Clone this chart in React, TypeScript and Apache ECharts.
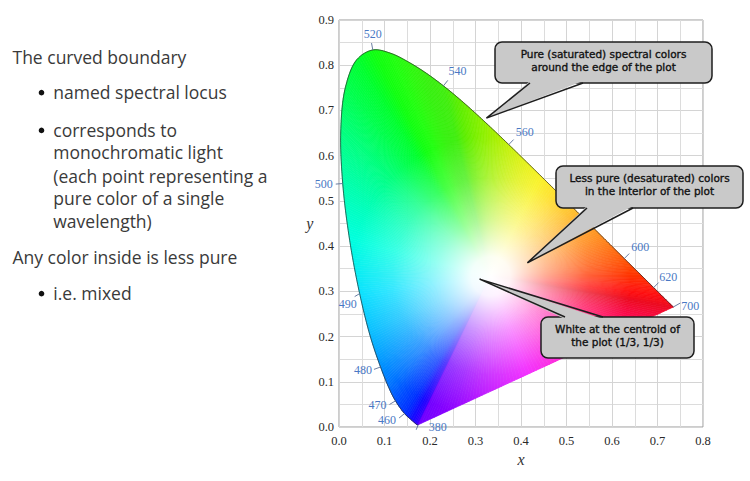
import React, { useEffect, useRef } from "react";
import * as echarts from "echarts";

// ---- data ----
const wavelengths = [380, 390, 400, 410, 420, 430, 440, 450, 460, 470, 475, 480, 485, 490, 495, 500, 505, 510, 515, 520, 525, 530, 535, 540, 545, 550, 555, 560, 565, 570, 575, 580, 585, 590, 595, 600, 605, 610, 620, 630, 640, 650, 660, 680, 700];
const locusX = [0.1741, 0.1738, 0.1733, 0.1726, 0.1714, 0.1689, 0.1644, 0.1566, 0.144, 0.1241, 0.1096, 0.0913, 0.0687, 0.0454, 0.0235, 0.0082, 0.0039, 0.0139, 0.0389, 0.0743, 0.1142, 0.1547, 0.1929, 0.2296, 0.2658, 0.3016, 0.3373, 0.3731, 0.4087, 0.4441, 0.4788, 0.5125, 0.5448, 0.5752, 0.6029, 0.627, 0.6482, 0.6658, 0.6915, 0.7079, 0.719, 0.726, 0.73, 0.7334, 0.7347];
const locusY = [0.005, 0.0049, 0.0048, 0.0048, 0.0051, 0.0069, 0.0109, 0.0177, 0.0297, 0.0578, 0.0868, 0.1327, 0.2007, 0.295, 0.4127, 0.5384, 0.6548, 0.7502, 0.812, 0.8338, 0.8262, 0.8059, 0.7816, 0.7543, 0.7243, 0.6923, 0.6589, 0.6245, 0.5896, 0.5547, 0.5202, 0.4866, 0.4544, 0.4242, 0.3965, 0.3725, 0.3514, 0.334, 0.3083, 0.292, 0.2809, 0.274, 0.27, 0.2666, 0.2653];
const whitePoint = [1 / 3, 1 / 3];
const labeledWavelengths = [380, 460, 470, 480, 490, 500, 520, 540, 560, 600, 620, 700];

const leftText = [
  { text: "The curved boundary", bullet: false, indent: false },
  { text: "named spectral locus", bullet: true, indent: true },
  { text: "corresponds to", bullet: true, indent: true },
  { text: "monochromatic light", bullet: false, indent: true },
  { text: "(each point representing a", bullet: false, indent: true },
  { text: "pure color of a single", bullet: false, indent: true },
  { text: "wavelength)", bullet: false, indent: true },
  { text: "Any color inside is less pure", bullet: false, indent: false },
  { text: "i.e. mixed", bullet: true, indent: true },
];

const calloutTexts = [
  ["Pure (saturated) spectral colors", "around the edge of the plot"],
  ["Less pure (desaturated) colors", "in the interior of the plot"],
  ["White at the centroid of", "the plot (1/3, 1/3)"],
];
const calloutTips = [
  [0.324, 0.683],
  [0.414, 0.363],
  [0.309, 0.327],
];

// ---- styles ----
const locusColors = [
  "#7000ff", "#6400ff", "#5800ff", "#4a00ff", "#3c00ff", "#2e00ff", "#2000ff", "#1010ff",
  "#0030ff", "#0050ff", "#0070ff", "#0090ff", "#00b8ff", "#00e0ff", "#00ffe0", "#00ffb0",
  "#00ff80", "#00ff50", "#00ff30", "#10ff10", "#20ff10", "#30f810", "#38f010", "#40ee10",
  "#60ee00", "#80f000", "#a0f000", "#c0f000", "#e0f000", "#f8f000", "#ffd800", "#ffb800",
  "#ff9800", "#ff8000", "#ff6800", "#ff5500", "#ff4400", "#ff3300", "#ff2010", "#ff1010",
  "#f80c14", "#f40c18", "#f00c1c", "#ee0c1e", "#ec0c20",
];
// purple line colours, from the 700 end to the 380 end
const purpleColors = ["#ec0c20", "#ff0c58", "#ff0090", "#ff00c8", "#f000ff", "#c000ff", "#9000ff", "#7000ff"];
const labelOffsets: Record<number, { dx: number; dy: number; align?: string; tick?: number[] }> = {
  380: { dx: 10.5, dy: 2, align: "left", tick: [-2, 5] },
  460: { dx: -17.5, dy: 6.4 },
  470: { dx: -18, dy: 4 },
  480: { dx: -17.5, dy: 3 },
  490: { dx: -12, dy: 10, tick: [-5, 3] },
  500: { dx: -19, dy: 0 },
  520: { dx: 0, dy: -16 },
  540: { dx: 14, dy: -15 },
  560: { dx: 16, dy: -13 },
  600: { dx: 16, dy: -12 },
  620: { dx: 14.5, dy: -11 },
  700: { dx: 8, dy: -1, align: "left", tick: [7, -4] },
};
const calloutBoxes = [
  { x: 495, y: 42, w: 217, h: 41, baseL: 530, baseR: 583, side: "bottom" },
  { x: 556, y: 166, w: 187, h: 42, baseL: 587, baseR: 633, side: "bottom" },
  { x: 541, y: 317, w: 153, h: 41, baseL: 565, baseR: 603, side: "top" },
];

const serif = '"Liberation Serif", "Times New Roman", serif';

// ---- drawing helpers ----
function rgb(h: string) {
  return [parseInt(h.slice(1, 3), 16), parseInt(h.slice(3, 5), 16), parseInt(h.slice(5, 7), 16)];
}
function mix(a: string, b: string, t: number) {
  const A = rgb(a), B = rgb(b);
  return `rgb(${A.map((v, k) => Math.round(v + (B[k] - v) * t)).join(",")})`;
}
function rampColor(stops: string[], t: number) {
  const f = t * (stops.length - 1);
  const k = Math.min(Math.floor(f), stops.length - 2);
  return mix(stops[k], stops[k + 1], f - k);
}
// centripetal Catmull-Rom between p1 and p2
function crPoint(p0: number[], p1: number[], p2: number[], p3: number[], u: number) {
  const d = (a: number[], b: number[]) => Math.pow(Math.hypot(b[0] - a[0], b[1] - a[1]), 0.5) + 1e-6;
  const t0 = 0, t1 = t0 + d(p0, p1), t2 = t1 + d(p1, p2), t3 = t2 + d(p2, p3);
  const t = t1 + u * (t2 - t1);
  const L = (a: number[], b: number[], ta: number, tb: number) =>
    [((tb - t) * a[0] + (t - ta) * b[0]) / (tb - ta), ((tb - t) * a[1] + (t - ta) * b[1]) / (tb - ta)];
  const A1 = L(p0, p1, t0, t1), A2 = L(p1, p2, t1, t2), A3 = L(p2, p3, t2, t3);
  const B1 = L(A1, A2, t0, t2), B2 = L(A2, A3, t1, t3);
  return L(B1, B2, t1, t2);
}
function segment(P: number[][], i: number) {
  const n = P.length;
  const p1 = P[i], p2 = P[i + 1];
  const p0 = i > 0 ? P[i - 1] : [2 * p1[0] - p2[0], 2 * p1[1] - p2[1]];
  const p3 = i + 2 < n ? P[i + 2] : [2 * p2[0] - p1[0], 2 * p2[1] - p1[1]];
  const len = Math.hypot(p2[0] - p1[0], p2[1] - p1[1]);
  const steps = Math.max(1, Math.ceil(len / 2.5));
  const out: number[][] = [];
  for (let k = 0; k <= steps; k++) {
    out.push(len < 0.5 ? (k === 0 ? p1 : p2) : crPoint(p0, p1, p2, p3, k / steps));
  }
  return out;
}

export default function App() {
  const ref = useRef<HTMLDivElement>(null);
  useEffect(() => {
    if (!ref.current) return;
    const chart = echarts.init(ref.current, undefined, { renderer: "svg" });
    const pts = wavelengths.map((_, i) => [locusX[i], locusY[i]]);

    const fan = {
      type: "custom",
      clip: false,
      z: 2,
      data: pts,
      renderItem: (params: any, api: any) => {
        const i = params.dataIndex;
        if (i >= wavelengths.length - 1) return null;
        const P = pts.map((p) => api.coord(p));
        const w = api.coord(whitePoint);
        const s = segment(P, i);
        const children = [];
        for (let k = 0; k < s.length - 1; k++) {
          const c = mix(locusColors[i], locusColors[i + 1], (k + 0.5) / (s.length - 1));
          children.push({
            type: "polygon",
            shape: { points: [w, s[k], s[k + 1]] },
            style: { fill: c, stroke: c, lineWidth: 0.7 },
          });
        }
        return { type: "group", children };
      },
    };

    const purple = {
      type: "custom",
      clip: false,
      z: 2,
      data: [pts[0]],
      renderItem: (_p: any, api: any) => {
        const w = api.coord(whitePoint);
        const a = api.coord(pts[pts.length - 1]);
        const b = api.coord(pts[0]);
        const N = 80;
        const children = [];
        for (let k = 0; k < N; k++) {
          const u0 = k / N, u1 = (k + 1) / N;
          const c = rampColor(purpleColors, (k + 0.5) / N);
          children.push({
            type: "polygon",
            shape: {
              points: [w, [a[0] + (b[0] - a[0]) * u0, a[1] + (b[1] - a[1]) * u0], [a[0] + (b[0] - a[0]) * u1, a[1] + (b[1] - a[1]) * u1]],
            },
            style: { fill: c, stroke: c, lineWidth: 0.7 },
          });
        }
        return { type: "group", children };
      },
    };

    const overlay = {
      type: "custom",
      clip: false,
      z: 3,
      data: [pts[0]],
      renderItem: (_p: any, api: any) => {
        const w = api.coord(whitePoint);
        const P = pts.map((p) => api.coord(p));
        let curve: number[][] = [];
        for (let i = 0; i < P.length - 1; i++) {
          const s = segment(P, i);
          curve = curve.concat(i === 0 ? s : s.slice(1));
        }
        return {
          type: "group",
          children: [
            {
              type: "polygon",
              shape: { points: curve },
              style: {
                fill: {
                  type: "radial", global: true, x: w[0], y: w[1], r: 140,
                  colorStops: [
                    { offset: 0, color: "rgba(255,255,255,1)" },
                    { offset: 0.14, color: "rgba(255,255,255,0.95)" },
                    { offset: 0.4, color: "rgba(255,255,255,0.58)" },
                    { offset: 0.7, color: "rgba(255,255,255,0.22)" },
                    { offset: 1, color: "rgba(255,255,255,0)" },
                  ],
                },
              },
            },
            { type: "polyline", shape: { points: curve }, style: { stroke: "#2a2a2a", lineWidth: 0.7, fill: null } },
          ],
        };
      },
    };

    const labels = {
      type: "custom",
      clip: false,
      z: 5,
      data: labeledWavelengths.map((wl) => {
        const i = wavelengths.indexOf(wl);
        return [locusX[i], locusY[i]];
      }),
      renderItem: (params: any, api: any) => {
        const wl = labeledWavelengths[params.dataIndex];
        const idx = wavelengths.indexOf(wl);
        const p = api.coord(pts[idx]);
        const a = api.coord(pts[Math.max(idx - 1, 0)]);
        const b = api.coord(pts[Math.min(idx + 1, pts.length - 1)]);
        let tx = b[0] - a[0], ty = b[1] - a[1];
        const L = Math.hypot(tx, ty) || 1;
        tx /= L; ty /= L;
        let nx = ty, ny = -tx;
        const w = api.coord(whitePoint);
        if (nx * (p[0] - w[0]) + ny * (p[1] - w[1]) < 0) { nx = -nx; ny = -ny; }
        const st = labelOffsets[wl];
        const t1 = st.tick ? [p[0] + st.tick[0], p[1] + st.tick[1]] : [p[0] + nx * 7, p[1] + ny * 7];
        return {
          type: "group",
          children: [
            { type: "line", shape: { x1: p[0], y1: p[1], x2: t1[0], y2: t1[1] }, style: { stroke: "#5a6f98", lineWidth: 0.9 } },
            {
              type: "text", x: p[0] + st.dx, y: p[1] + st.dy,
              style: { text: String(wl), fill: "#4a78c4", font: `12px ${serif}`, align: st.align || "center", verticalAlign: "middle" },
            },
          ],
        };
      },
    };

    const axisLabel = { color: "#2a2a2a", fontFamily: serif, fontSize: 12.5 };
    chart.setOption({
      animation: false,
      backgroundColor: "#fff",
      grid: { left: 339, right: 47, top: 20, bottom: 54, show: true, borderColor: "#9a9a9a", borderWidth: 1 },
      xAxis: {
        type: "value", min: 0, max: 0.8, interval: 0.1,
        name: "x", nameLocation: "middle", nameGap: 20,
        nameTextStyle: { fontFamily: serif, fontStyle: "italic", fontSize: 16, color: "#333" },
        axisLine: { show: false }, axisTick: { show: false },
        axisLabel: { ...axisLabel, margin: 7, formatter: (v: number) => v.toFixed(1) },
        splitLine: { show: true, lineStyle: { color: "#d4d4d4", width: 1 } },
        minorTick: { show: false, splitNumber: 2 },
        minorSplitLine: { show: true, lineStyle: { color: "#dcdcdc", width: 1 } },
      },
      yAxis: {
        type: "value", min: 0, max: 0.9, interval: 0.1,
        name: "y", nameLocation: "middle", nameGap: 24, nameRotate: 0,
        nameTextStyle: { fontFamily: serif, fontStyle: "italic", fontSize: 16, color: "#333" },
        axisLine: { show: false }, axisTick: { show: false },
        axisLabel: { ...axisLabel, margin: 5, formatter: (v: number) => v.toFixed(1) },
        splitLine: { show: true, lineStyle: { color: "#d4d4d4", width: 1 } },
        minorTick: { show: false, splitNumber: 2 },
        minorSplitLine: { show: true, lineStyle: { color: "#dcdcdc", width: 1 } },
      },
      series: [fan, purple, overlay, labels],
    });

    // graphic: left text and callouts
    const graphic: any[] = [];
    const baselines = [63.3, 98.3, 136, 158.3, 181.7, 204, 226.7, 263.3, 299.3];
    leftText.forEach((row, k) => {
      const bl = baselines[k];
      graphic.push({
        type: "text", id: "lt" + k, x: row.indent ? 53.3 : 12.5, y: bl - 6, z: 10,
        style: { text: row.text, fill: "#3a3a3a", font: '17.5px "Open Sans", Lato, sans-serif', verticalAlign: "middle" },
      });
      if (row.bullet) {
        graphic.push({ type: "circle", id: "lb" + k, shape: { cx: 41.5, cy: bl - 5.6, r: 2.8 }, style: { fill: "#111" }, z: 10 });
      }
    });
    calloutBoxes.forEach((bx, k) => {
      const tip = chart.convertToPixel({ xAxisIndex: 0, yAxisIndex: 0 }, calloutTips[k]) as number[];
      const edgeY = bx.side === "bottom" ? bx.y + bx.h : bx.y;
      const inY = bx.side === "bottom" ? edgeY - 2 : edgeY + 2;
      graphic.push({
        type: "rect", id: "cb" + k, z: 20,
        shape: { x: bx.x, y: bx.y, width: bx.w, height: bx.h, r: 7 },
        style: { fill: "#c9c9c9", stroke: "#1e1e1e", lineWidth: 1.5 },
      });
      graphic.push({
        type: "polygon", id: "cp" + k, z: 21,
        shape: { points: [[bx.baseL, inY], tip, [bx.baseR, inY]] },
        style: { fill: "#c9c9c9" },
      });
      graphic.push({
        type: "polyline", id: "cl" + k, z: 22,
        shape: { points: [[bx.baseL, edgeY], tip, [bx.baseR, edgeY]] },
        style: { stroke: "#1e1e1e", lineWidth: 1.5, fill: null },
      });
      graphic.push({
        type: "text", id: "ct" + k, z: 23,
        x: bx.x + bx.w / 2, y: bx.y + 18.3,
        style: {
          text: calloutTexts[k].join("\n"), fill: "#111", lineHeight: 13.4,
          font: '10.5px "DejaVu Sans", sans-serif', align: "center", verticalAlign: "middle",
          stroke: "#111", lineWidth: 0.35,
        },
      });
    });
    chart.setOption({ graphic });

    return () => chart.dispose();
  }, []);
  return <div ref={ref} style={{ position: "absolute", left: 0, top: 0, width: 750, height: 481 }} />;
}
